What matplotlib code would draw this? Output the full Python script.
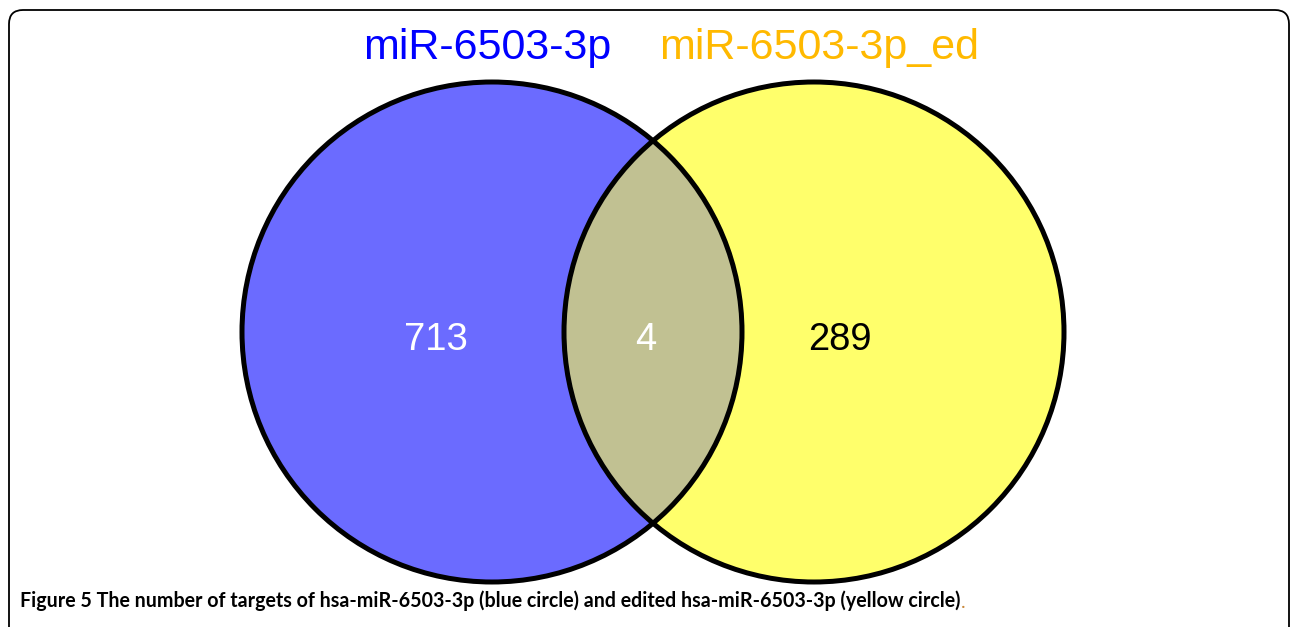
import numpy as np
import matplotlib.pyplot as plt
from matplotlib.patches import Circle, FancyBboxPatch

# set names and the number of targets in each region
set_names = ['miR-6503-3p', 'miR-6503-3p_ed']
set_colors = ['#0000FF', '#FFB900']
only_a = 713
both = 4
only_b = 289
caption = ('Figure 5 The number of targets of hsa-miR-6503-3p (blue circle) '
           'and edited hsa-miR-6503-3p (yellow circle)')

fig = plt.figure(figsize=(12.95, 6.27), dpi=100)
ax = fig.add_axes([0, 0, 1, 1])
ax.set_xlim(0, 1295)
ax.set_ylim(627, 0)
ax.axis('off')

# frame round the figure
frame = FancyBboxPatch((9, 10), 1280, 640, boxstyle='round,pad=0,rounding_size=14',
                       fc='white', ec='black', lw=1.3, zorder=0)
ax.add_patch(frame)

# circle layout
r = 250
ca = (492, 332)
cb = (814, 332)

left = Circle(ca, r, fc='#6B6BFF', ec='none', zorder=1)
right = Circle(cb, r, fc='#FFFF6B', ec='none', zorder=1)
ax.add_patch(left)
ax.add_patch(right)

# overlap region: right circle clipped to left circle
lens = Circle(cb, r, fc='#C1C192', ec='none', zorder=2)
ax.add_patch(lens)
lens.set_clip_path(left)

for c in (ca, cb):
    ax.add_patch(Circle(c, r, fc='none', ec='black', lw=3.6, zorder=3))

# set names on top
ax.text(487, 48, set_names[0], color=set_colors[0], fontsize=31,
        family='Liberation Sans', ha='center', va='center')
ax.text(819, 48, set_names[1], color=set_colors[1], fontsize=31,
        family='Liberation Sans', ha='center', va='center')

# counts
ax.text(436, 340, str(only_a), color='white', fontsize=27.5, family='Liberation Sans',
        ha='center', va='center', zorder=4)
ax.text(646, 340, str(both), color='white', fontsize=27.5, family='Liberation Sans',
        ha='center', va='center', zorder=4)
ax.text(840, 340, str(only_b), color='black', fontsize=27.5, family='Liberation Sans',
        ha='center', va='center', zorder=4)

# caption
t = ax.text(20, 601, caption, fontsize=14.1, fontweight='bold', family='Lato',
            ha='left', va='center', zorder=4)
ax.annotate('.', xy=(1, 0), xycoords=t, va='bottom', ha='left',
            fontsize=14.1, family='Lato', color='#C8873A')

fig.savefig('out.png', dpi=100)
